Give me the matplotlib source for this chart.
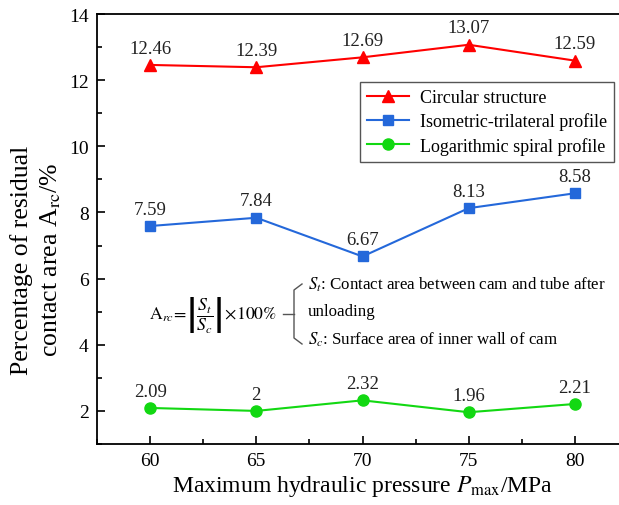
import matplotlib
matplotlib.use("Agg")
import matplotlib.pyplot as plt
from matplotlib.ticker import MultipleLocator

plt.rcParams['font.family'] = ['Liberation Serif', 'DejaVu Serif']
plt.rcParams['mathtext.fontset'] = 'stix'

pressure = [60, 65, 70, 75, 80]
circular = [12.46, 12.39, 12.69, 13.07, 12.59]
isometric = [7.59, 7.84, 6.67, 8.13, 8.58]
logspiral = [2.09, 2.00, 2.32, 1.96, 2.21]
circular_lbl = ["12.46", "12.39", "12.69", "13.07", "12.59"]
isometric_lbl = ["7.59", "7.84", "6.67", "8.13", "8.58"]
logspiral_lbl = ["2.09", "2", "2.32", "1.96", "2.21"]

W, H = 619, 506
fig = plt.figure(figsize=(W/100, H/100), dpi=100)
ax = fig.add_axes([97/W, 1-445/H, 531/W, 430/H])

red = '#FF0000'
blue = '#2468DA'
green = '#12D812'

ax.plot(pressure, circular, color=red, marker='^', markersize=9, lw=1.5, label='Circular structure')
ax.plot(pressure, isometric, color=blue, marker='s', markersize=6.5, lw=1.5, label='Isometric-trilateral profile')
ax.plot(pressure, logspiral, color=green, marker='o', markersize=8, lw=1.5, label='Logarithmic spiral profile')

for xs, ys, ls in [(pressure, circular, circular_lbl), (pressure, isometric, isometric_lbl), (pressure, logspiral, logspiral_lbl)]:
    for x, y, l in zip(xs, ys, ls):
        ax.annotate(l, (x, y), xytext=(0, 6), textcoords='offset points', ha='center', va='bottom', fontsize=13.5, color='#222222')

ax.set_xlim(57.5, 82.5)
ax.set_ylim(1, 14)
ax.set_xticks(pressure)
ax.xaxis.set_minor_locator(MultipleLocator(2.5))
ax.yaxis.set_minor_locator(MultipleLocator(1))
ax.set_yticks([2, 4, 6, 8, 10, 12, 14])
ax.tick_params(which='major', direction='in', length=6, width=1.2, labelsize=14, pad=6)
ax.tick_params(which='minor', direction='in', length=3.5, width=1.2)
for s in ax.spines.values():
    s.set_linewidth(1.3)
ax.spines['right'].set_visible(False)

ax.set_xlabel(r'Maximum hydraulic pressure $P_{\mathrm{max}}$/MPa', fontsize=17, labelpad=3)
fig.text(22/W, 1-260/H, 'Percentage of residual', rotation=90, ha='center', va='center', fontsize=18.5)
fig.text(51/W, 1-260/H, r'contact area A$_{\mathrm{rc}}$/%', rotation=90, ha='center', va='center', fontsize=18.5)

leg = ax.legend(loc='upper left', bbox_to_anchor=((360-97)/531, (445-83)/430), fontsize=13,
                frameon=True, fancybox=False, edgecolor='#555555', framealpha=1,
                handlelength=2.3, borderpad=0.4, labelspacing=0.35, handletextpad=0.6, borderaxespad=0)
leg.get_frame().set_linewidth(1.0)

# formula annotation
fig.text(149/W, 1-315/H, r'$\mathrm{A}_{rc}\!=\!\left|\dfrac{S_t}{S_c}\right|\!\times\!\mathrm{100\%}$', fontsize=12.8, ha='left', va='center')
bx = 294/W
fig.add_artist(plt.Line2D([283/W, bx], [1-315/H, 1-315/H], color='#555555', lw=1, transform=fig.transFigure))
fig.add_artist(plt.Line2D([302/W, bx, bx, 302/W], [1-285/H, 1-291/H, 1-339/H, 1-345/H], color='#555555', lw=1, transform=fig.transFigure))
fig.text(308/W, 1-285/H, r'$S_t$: Contact area between cam and tube after', fontsize=12.2, ha='left', va='center')
fig.text(308/W, 1-312/H, 'unloading', fontsize=12.2, ha='left', va='center')
fig.text(308/W, 1-340/H, r'$S_c$: Surface area of inner wall of cam', fontsize=12.2, ha='left', va='center')

fig.savefig('out.png', dpi=100)
